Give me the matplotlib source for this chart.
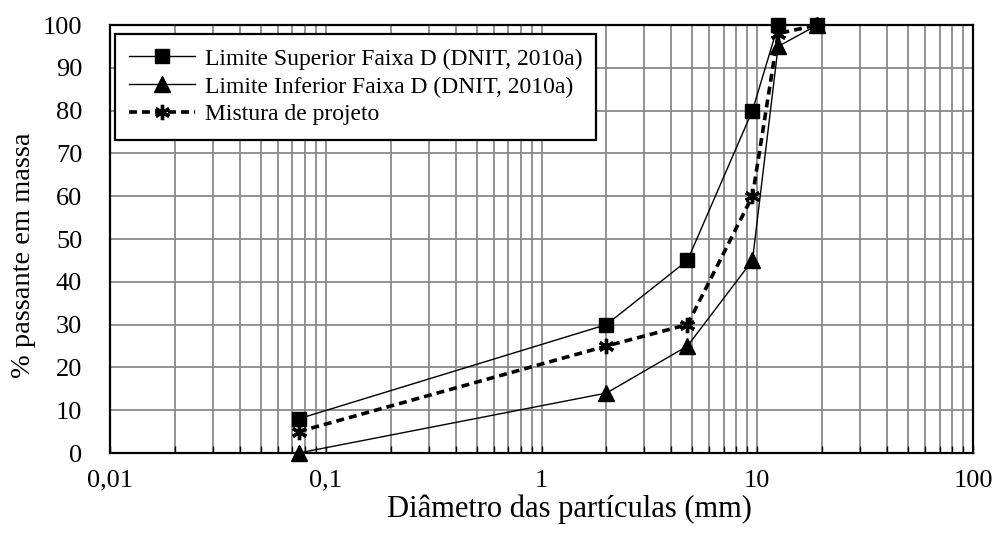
import matplotlib
matplotlib.use('agg')
import matplotlib.pyplot as plt
from matplotlib.ticker import FixedLocator, LogLocator, NullFormatter, FixedFormatter

plt.rcParams['font.family'] = ['Liberation Serif', 'DejaVu Serif']

# peneiras (mm) e % passante
sieves = [0.075, 2.0, 4.75, 9.5, 12.5, 19.0]
upper = [8, 30, 45, 80, 100, 100]
lower = [0, 14, 25, 45, 95, 100]
mix = [5, 25, 30, 60, 98, 100]

x_ticks = [0.01, 0.1, 1, 10, 100]
x_labels = ['0,01', '0,1', '1', '10', '100']

fig = plt.figure(figsize=(9.95, 5.33), dpi=100)
ax = fig.add_axes([110/995, 80/533, 863/995, 428/533])

ax.plot(sieves, upper, color='black', lw=1.0, marker='s', ms=10.5,
        label='Limite Superior Faixa D (DNIT, 2010a)', clip_on=False, zorder=4)
ax.plot(sieves, lower, color='black', lw=1.0, marker='^', ms=12,
        label='Limite Inferior Faixa D (DNIT, 2010a)', clip_on=False, zorder=4)
ax.plot(sieves, mix, color='black', lw=2.6, ls=(0, (2.2, 1.4)), marker=(6, 2, 0),
        ms=11, mew=2.4, label='Mistura de projeto', clip_on=False, zorder=5)

ax.set_xscale('log')
ax.set_xlim(0.01, 100)
ax.set_ylim(0, 100)
ax.xaxis.set_major_locator(FixedLocator(x_ticks))
ax.xaxis.set_major_formatter(FixedFormatter(x_labels))
ax.xaxis.set_minor_locator(LogLocator(base=10, subs=range(2, 10)))
ax.xaxis.set_minor_formatter(NullFormatter())
ax.set_yticks(range(0, 101, 10))

ax.grid(True, which='both', axis='x', color='#8a8a8a', lw=1.3)
ax.grid(True, which='major', axis='y', color='#8a8a8a', lw=1.3)
ax.set_axisbelow(True)

ax.tick_params(axis='x', which='both', direction='in', length=5, width=1,
               top=False, labelsize=19, pad=12)
ax.tick_params(axis='y', which='both', length=0, labelsize=19, pad=20)
for s in ax.spines.values():
    s.set_linewidth(1.6)
    s.set_zorder(6)

ax.set_xlabel('Diâmetro das partículas (mm)', fontsize=22)
ax.xaxis.set_label_coords((569 - 110) / 863, (453 - 494) / 428)
ax.set_ylabel('% passante em massa', fontsize=20.5)
ax.yaxis.set_label_coords((36 - 110) / 863, (453 - 255) / 428)

leg = ax.legend(loc='upper left', bbox_to_anchor=(115 / 995, 1 - 34 / 533),
                bbox_transform=fig.transFigure, fontsize=17,
                frameon=True, fancybox=False, edgecolor='black', framealpha=1,
                handlelength=2.8, handletextpad=0.4, borderpad=0.6,
                labelspacing=0.27, borderaxespad=0)
leg.get_frame().set_linewidth(1.6)
leg.set_zorder(7)

fig.savefig('out.png', dpi=100)
